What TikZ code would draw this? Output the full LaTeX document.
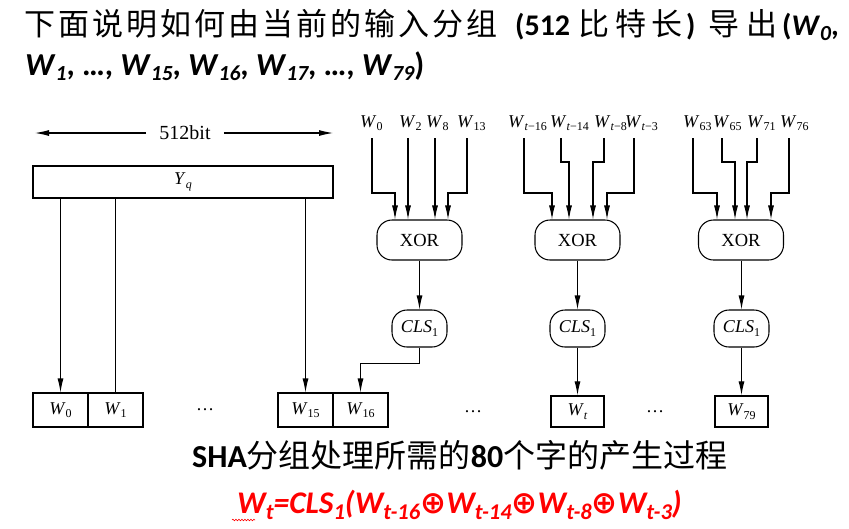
\documentclass[tikz,border=0pt]{standalone}
\usepackage{fontspec}
\setmainfont{Liberation Serif}
\newfontfamily\hdcjk{Noto Sans CJK SC}
\newfontfamily\capcjk{Noto Sans CJK SC}
\newfontfamily\latinfont{Carlito}
\newfontfamily\opfont{DejaVu Sans}
\usetikzlibrary{arrows.meta,decorations.pathmorphing}

% diagram label with a lowered subscript
\newcommand\dlab[2]{\textit{#1}\raisebox{-3.5pt}{\fontsize{12}{12}\selectfont #2}}
% bold italic W with subscript for the heading lines
\newcommand\tw[1]{\textit{W}\raisebox{-5pt}{\fontsize{21.5}{21.5}\selectfont\itshape #1}}
% Chinese heading run: every character set in a box of the given pitch
\def\hzloop#1{\ifx\relax#1\else\makebox[\hzpitch][c]{#1}\expandafter\hzloop\fi}
\newcommand\hz[2]{{\def\hzpitch{#1}\hdcjk\mdseries\upshape\fontsize{31}{32}\selectfont\hzloop#2\relax}}
% Chinese runs in the caption
\newcommand\cz[1]{{\capcjk\mdseries\upshape\fontsize{32}{34}\selectfont #1}}
% subscript and xor sign of the red formula
\newcommand\fs[1]{\raisebox{-6.5pt}{\fontsize{22.5}{22.5}\selectfont #1}}
\newcommand\opx{{\opfont\bfseries\upshape\fontsize{31}{31}\selectfont ⊕}}

\begin{document}
\begin{tikzpicture}[x=1pt,y=-1pt,
  ln/.style={line width=1.05pt},
  arr/.style={ln,-{Latex[length=14pt,width=6pt]}},
  inp/.style={anchor=base west,inner sep=0pt,font=\fontsize{18}{18}\selectfont},
  wbox/.style={draw,ln,minimum width=55pt,minimum height=34pt,inner sep=0pt,font=\fontsize{18}{18}\selectfont},
  obox/.style={draw,line width=1.4pt,minimum width=53pt,minimum height=31pt,inner sep=0pt,font=\fontsize{18}{18}\selectfont},
  xorbox/.style={draw,ln,rounded corners=15pt,minimum width=85pt,minimum height=40pt,inner sep=0pt,font=\fontsize{18.5}{18.5}\selectfont},
  clsbox/.style={draw,ln,rounded corners=15pt,minimum width=55pt,minimum height=37pt,inner sep=0pt,font=\fontsize{18}{18}\selectfont},
  txt/.style={inner sep=0pt,font=\fontsize{18}{18}\selectfont},
  hdl/.style={anchor=base west,inner sep=0pt,font=\latinfont\bfseries\fontsize{30}{36}\selectfont}]
\useasboundingbox (0,0) rectangle (849,528);

% heading, first line: spaced-out Chinese runs alternating with bold Latin runs
\node[hdl] (h1) at (22.5,35) {\hz{34pt}{下面说明如何由当前的输入分组}};
\node[hdl] (h2) at (515,35) {(512};
\node[hdl] (h3) at (576,35) {\hz{36.5pt}{比特长}};
\node[hdl] (h4) at (686,35) {)};
\node[hdl] (h5) at (705,35) {\hz{38pt}{导出}};
\node[hdl] (h6) at (782,35) {(\tw{0},};
% heading, second line
\node[anchor=base west,inner sep=0pt,font=\latinfont\bfseries\fontsize{32}{36}\selectfont] (head2) at (25,75)
  {\tw{1}, …, \tw{15}, \tw{16}, \tw{17}, …, \tw{79})};

% 512-bit block
\node[txt,font=\fontsize{20}{20}\selectfont] (bits) at (185,133) {512bit};
\coordinate (bitl) at (35,133);
\coordinate (bitr) at (333,133);
\draw[arr] ([xshift=-13pt]bits.west) -- (bitl);
\draw[arr] ([xshift=13pt]bits.east) -- (bitr);
\node[draw,ln,minimum width=300pt,minimum height=32pt,inner sep=0pt,font=\fontsize{18}{18}\selectfont] (yq) at (183,182) {\dlab{Y}{\textit{q}}};

% word registers
\node[wbox] (w0) at (60.5,410) {\dlab{W}{0}};
\node[wbox] (w1) at (115.5,410) {\dlab{W}{1}};
\node[wbox] (w15) at (305.5,410) {\dlab{W}{15}};
\node[wbox] (w16) at (360.5,410) {\dlab{W}{16}};
\node[obox] (wt) at (577.5,411.5) {\dlab{W}{\textit{t}}};
\node[obox] (w79) at (741.5,411.5) {\dlab{W}{79}};
\node[txt] (dots1) at (205,410) {…};
\node[txt] (dots2) at (473,412) {…};
\node[txt] (dots3) at (655,412) {…};

\draw[arr] (w0 |- yq.south) -- (w0.north);
\draw[ln] (w1 |- yq.south) -- (w1.north);
\draw[arr] (w15 |- yq.south) -- (w15.north);

% xor and rotate stages
\node[xorbox] (xor1) at (419.5,240) {XOR};
\node[xorbox] (xor2) at (577.5,240) {XOR};
\node[xorbox] (xor3) at (741,240) {XOR};
\node[clsbox] (cls1) at (419.5,328.5) {\dlab{CLS}{1}};
\node[clsbox] (cls2) at (577.5,328.5) {\dlab{CLS}{1}};
\node[clsbox] (cls3) at (741.5,328.5) {\dlab{CLS}{1}};

\draw[arr] (xor1.south) -- (cls1.north);
\draw[arr] (xor2.south) -- (cls2.north);
\draw[arr] ([xshift=0.5pt]xor3.south) -- (cls3.north);
\draw[arr] (cls1.south) -- ++(0,16) -| (w16.north);
\draw[arr] (cls2.south) -- (wt.north);
\draw[arr] (cls3.south) -- (w79.north);

% inputs of the first stage
\node[inp] (a1) at (360,127) {\dlab{W}{0}};
\node[inp] (a2) at (399,127) {\dlab{W}{2}};
\node[inp] (a3) at (426,127) {\dlab{W}{8}};
\node[inp] (a4) at (457,127) {\dlab{W}{13}};
\draw[arr] ([shift={(12pt,-11pt)}]a1.base west) -- ++(0,55) -| ([xshift=-24.5pt]xor1.north);
\draw[arr] ([shift={(9pt,-11pt)}]a2.base west) -- ([xshift=-11.5pt]xor1.north);
\draw[arr] ([shift={(9pt,-11pt)}]a3.base west) -- ([xshift=15.5pt]xor1.north);
\draw[arr] ([shift={(10pt,-11pt)}]a4.base west) -- ++(0,55) -| ([xshift=28.5pt]xor1.north);

% inputs of the general stage
\node[inp] (b1) at (508,127) {\dlab{W}{\textit{t}−16}};
\node[inp] (b2) at (550,127) {\dlab{W}{\textit{t}−14}};
\node[inp] (b3) at (594,127) {\dlab{W}{\textit{t}−8}};
\node[inp] (b4) at (625,127) {\dlab{W}{\textit{t}−3}};
\draw[arr] ([shift={(16pt,-11pt)}]b1.base west) -- ++(0,55) -| ([xshift=-25.5pt]xor2.north);
\draw[arr] ([shift={(11pt,-11pt)}]b2.base west) -- ++(0,24) -| ([xshift=-8.5pt]xor2.north);
\draw[arr] ([shift={(10pt,-11pt)}]b3.base west) -- ++(0,24) -| ([xshift=15.5pt]xor2.north);
\draw[arr] ([shift={(9pt,-11pt)}]b4.base west) -- ++(0,55) -| ([xshift=29.5pt]xor2.north);

% inputs of the last stage
\node[inp] (c1) at (683,127) {\dlab{W}{63}};
\node[inp] (c2) at (713,127) {\dlab{W}{65}};
\node[inp] (c3) at (747,127) {\dlab{W}{71}};
\node[inp] (c4) at (780,127) {\dlab{W}{76}};
\draw[arr] ([shift={(10pt,-11pt)}]c1.base west) -- ++(0,55) -| ([xshift=-24pt]xor3.north);
\draw[arr] ([shift={(9pt,-11pt)}]c2.base west) -- ++(0,24) -| ([xshift=-6pt]xor3.north);
\draw[arr] ([shift={(10pt,-11pt)}]c3.base west) -- ++(0,24) -| ([xshift=6pt]xor3.north);
\draw[arr] ([shift={(9pt,-11pt)}]c4.base west) -- ++(0,55) -| ([xshift=30pt]xor3.north);

% caption and formula
\node[anchor=base west,inner sep=0pt,font=\latinfont\bfseries\fontsize{32}{36}\selectfont] (cap) at (192,467)
  {SHA\cz{分组处理所需的}80\cz{个字的产生过程}};
\node[anchor=base west,inner sep=0pt,text=red,font=\latinfont\bfseries\itshape\fontsize{31.5}{36}\selectfont] (eq) at (237,513)
  {W\fs{t}=CLS\fs{1}(W\fs{t-16}\opx W\fs{t-14}\opx W\fs{t-8}\opx W\fs{t-3})};
\draw[red,line width=0.6pt,decorate,decoration={snake,amplitude=0.8pt,segment length=3pt}]
  ([shift={(-5pt,-7pt)}]eq.base west) -- ++(23,0);
\end{tikzpicture}
\end{document}
